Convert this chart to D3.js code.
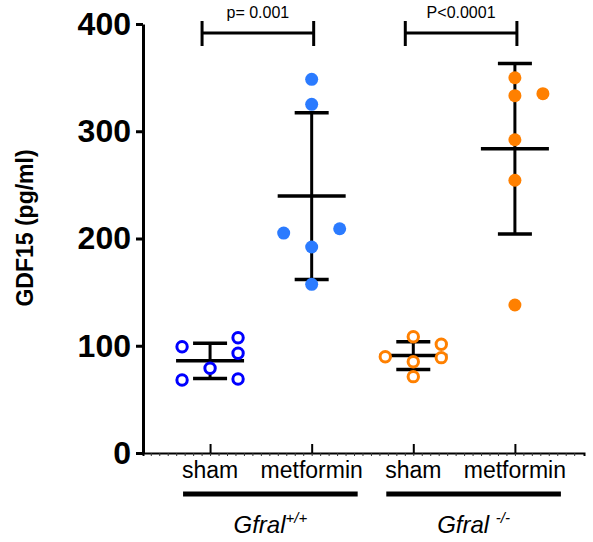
<!DOCTYPE html>
<html>
<head>
<meta charset="utf-8">
<script src="https://cdn.jsdelivr.net/npm/d3@7"></script>
<style>
  body { margin: 0; background: #fff; }
  svg { display: block; font-family: "Liberation Sans", Arial, Helvetica, sans-serif; }
</style>
</head>
<body>
<svg id="chart" width="593" height="542"></svg>
<script>

// categories along the x axis
let categories = ["sham", "metformin", "sham", "metformin"];

// GDF15 (pg/ml) per animal, one array per group
let wtSham      = [99, 68, 79, 107.5, 93, 69];
let wtMetformin = [348.4, 325.1, 205.1, 209.1, 192.1, 157.3];
let koSham      = [108.4, 89.8, 85.1, 71.2, 101.4, 88.9];
let koMetformin = [349.9, 333.2, 335, 292.1, 254.3, 138];

// column of each point in the scatter (-1 left, 0 centre, 1 right)
let wtShamSlot      = [-1, -1, 0, 1, 1, 1];
let wtMetforminSlot = [0, 0, -1, 1, 0, 0];
let koShamSlot      = [0, -1, 0, 0, 1, 1];
let koMetforminSlot = [0, 0, 1, 0, 0, 0];

let yTicks = [0, 100, 200, 300, 400];

let genotypes = [
    {name: "Gfral", sup: "+/+", first: 0, last: 1},
    {name: "Gfral ", sup: "-/-", first: 2, last: 3}
];

let comparisons = [
    {a: 0, b: 1, label: "p= 0.001"},
    {a: 2, b: 3, label: "P<0.0001"}
];

let groups = [
    {values: wtSham,      slots: wtShamSlot,      color: "#0000ff", open: true},
    {values: wtMetformin, slots: wtMetforminSlot, color: "#2b7bff", open: false},
    {values: koSham,      slots: koShamSlot,      color: "#ff8000", open: true},
    {values: koMetformin, slots: koMetforminSlot, color: "#ff8000", open: false}
];

let svg = d3.select("#chart");

let y = d3.scaleLinear().domain([0, 400]).range([453, 24]);
let x = d3.scaleLinear().domain([-0.66, 3.68]).range([143, 584]);

let jitter = 28;

// y axis
let yAxis = svg.append("g")
    .attr("transform", "translate(143,0)")
    .call(d3.axisLeft(y).tickValues(yTicks).tickSize(7).tickPadding(5).tickSizeOuter(0));
yAxis.select(".domain").attr("stroke-width", 3).attr("stroke", "#000");
yAxis.selectAll(".tick line").attr("stroke-width", 3).attr("stroke", "#000");
yAxis.selectAll(".tick text")
    .attr("font-size", 32).attr("font-weight", "bold").attr("fill", "#000")
    .attr("font-family", "Liberation Sans, Arial, sans-serif");

// x axis, minor ticks first
let minorTicks = d3.range(-7, 44).map(function (i) { return i / 12; });
let xMinor = svg.append("g")
    .attr("transform", "translate(0,453)")
    .call(d3.axisBottom(x).tickValues(minorTicks).tickSize(3).tickFormat(""));
xMinor.select(".domain").attr("stroke-width", 2).attr("stroke", "#000");
xMinor.selectAll(".tick line").attr("stroke-width", 1).attr("stroke", "#333");

let xAxis = svg.append("g")
    .attr("transform", "translate(0,453)")
    .call(d3.axisBottom(x).tickValues(d3.range(categories.length)).tickSizeInner(-9).tickSizeOuter(0).tickFormat(""));
xAxis.select(".domain").remove();
xAxis.selectAll(".tick line").attr("stroke-width", 2).attr("stroke", "#000");

svg.selectAll("text.cat")
    .data(categories)
    .enter()
    .append("text").classed("cat", true)
    .attr("x", function (d, i) { return x(i); })
    .attr("y", 478)
    .attr("text-anchor", "middle")
    .attr("font-size", 23)
    .text(function (d) { return d; });

// genotype bars + labels
genotypes.forEach(function (g) {
    let x0 = x(g.first) - 27, x1 = x(g.last) + 46;
    svg.append("line")
        .attr("x1", x0).attr("x2", x1)
        .attr("y1", 494).attr("y2", 494)
        .attr("stroke", "#000").attr("stroke-width", 5);
    let t = svg.append("text")
        .attr("x", (x0 + x1) / 2)
        .attr("y", 533)
        .attr("text-anchor", "middle")
        .attr("font-size", 24)
        .attr("font-style", "italic")
        .attr("xml:space", "preserve");
    t.append("tspan").text(g.name);
    t.append("tspan").attr("font-size", 15).attr("dy", -10).text(g.sup);
});

// y axis title
svg.append("text")
    .attr("transform", "translate(33,228) rotate(-90)")
    .attr("text-anchor", "middle")
    .attr("font-size", 23)
    .attr("font-weight", "bold")
    .text("GDF15 (pg/ml)");

// mean and SD per group
groups.forEach(function (g, i) {
    let m = d3.mean(g.values), sd = d3.deviation(g.values);
    let cx = x(i);
    let bars = svg.append("g").attr("stroke", "#000");
    bars.append("line")
        .attr("x1", cx).attr("x2", cx)
        .attr("y1", y(m + sd)).attr("y2", y(m - sd))
        .attr("stroke-width", 3);
    [m + sd, m - sd].forEach(function (v) {
        bars.append("line")
            .attr("x1", cx - 17).attr("x2", cx + 17)
            .attr("y1", y(v)).attr("y2", y(v))
            .attr("stroke-width", 3.5);
    });
    bars.append("line")
        .attr("x1", cx - 34).attr("x2", cx + 34)
        .attr("y1", y(m)).attr("y2", y(m))
        .attr("stroke-width", 3.5);
});

// points
groups.forEach(function (g, i) {
    svg.append("g")
        .selectAll("circle")
        .data(g.values)
        .enter()
        .append("circle")
        .attr("cx", function (d, j) { return x(i) + g.slots[j] * jitter; })
        .attr("cy", function (d) { return y(d); })
        .attr("r", g.open ? 5.2 : 6.5)
        .attr("fill", g.open ? "#fff" : g.color)
        .attr("stroke", g.open ? g.color : "none")
        .attr("stroke-width", 3);
});

// significance brackets
comparisons.forEach(function (c) {
    let x0 = x(c.a) - 8, x1 = x(c.b) + 2, by = 33;
    let b = svg.append("g").attr("stroke", "#000").attr("stroke-width", 3);
    b.append("line").attr("x1", x0).attr("x2", x1).attr("y1", by).attr("y2", by);
    b.append("line").attr("x1", x0).attr("x2", x0).attr("y1", by - 12).attr("y2", by + 13);
    b.append("line").attr("x1", x1).attr("x2", x1).attr("y1", by - 12).attr("y2", by + 13);
    svg.append("text")
        .attr("x", (x0 + x1) / 2)
        .attr("y", 18)
        .attr("text-anchor", "middle")
        .attr("font-size", 16)
        .text(c.label);
});

</script>
</body>
</html>
